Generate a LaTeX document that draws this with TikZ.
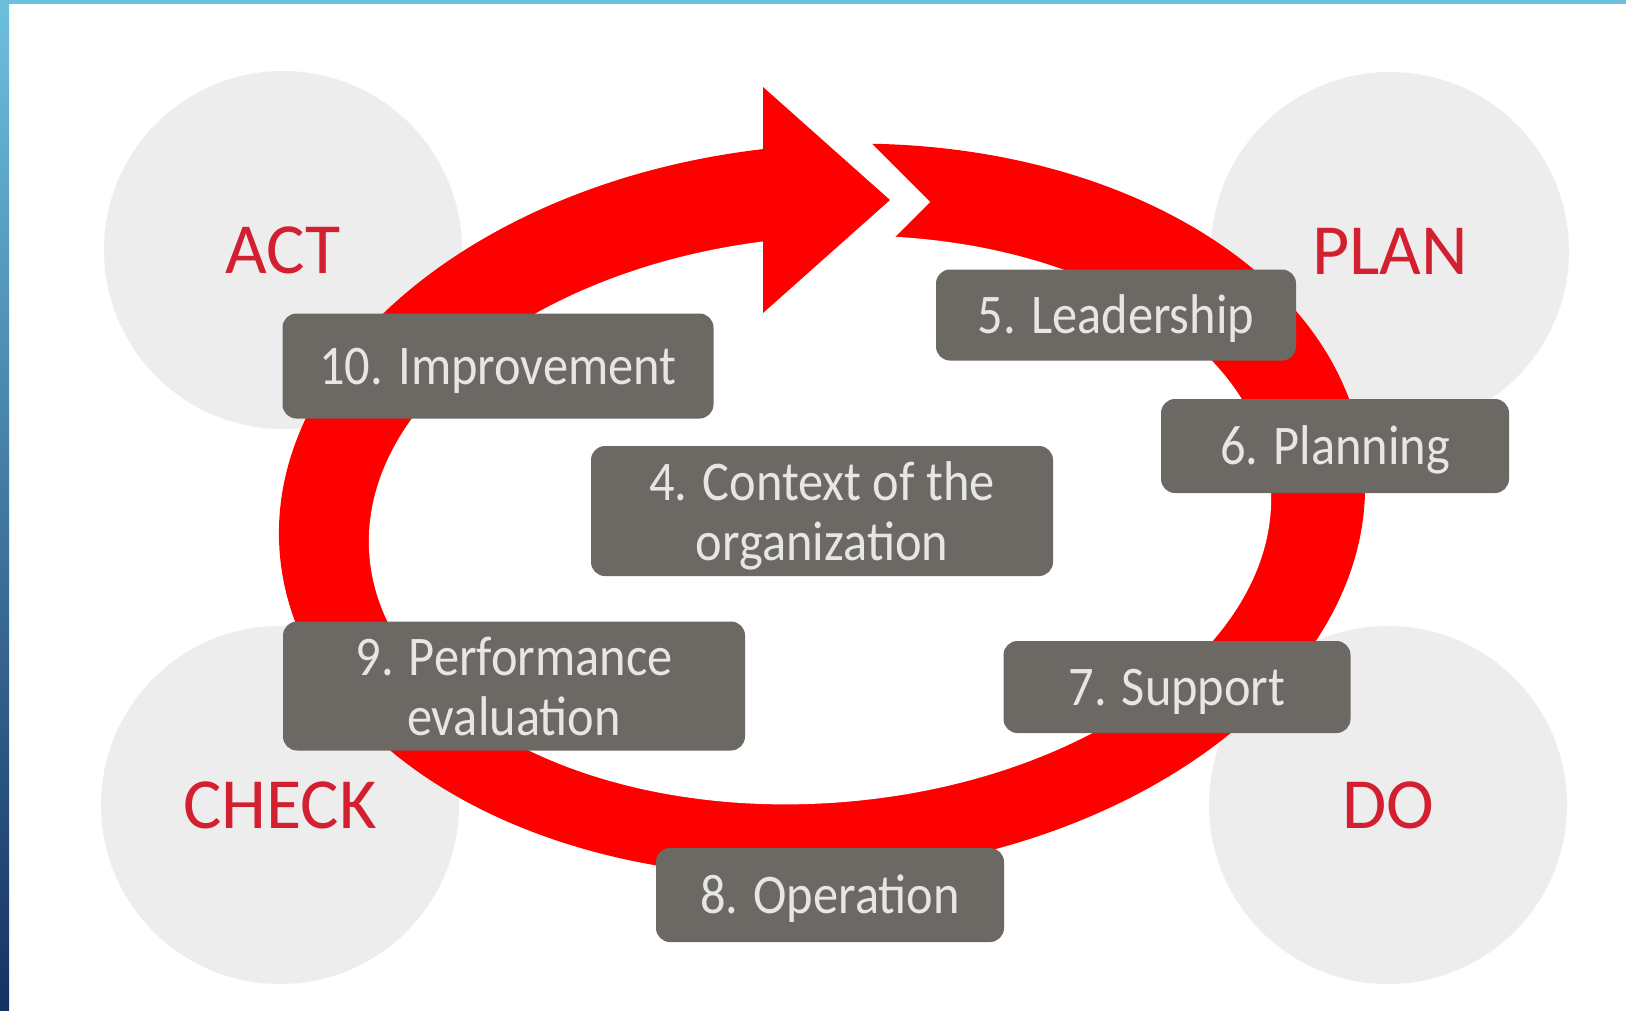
\documentclass[tikz,border=0pt]{standalone}
\usepackage{fontspec}
\newfontfamily\phasefont{Carlito}
\newfontfamily\clausefont[FakeStretch=0.9]{Carlito}
\definecolor{ringred}{HTML}{FF0000}
\definecolor{phasered}{HTML}{D32030}
\definecolor{discgray}{HTML}{EDEDED}
\definecolor{boxgray}{HTML}{6C6864}
\definecolor{boxtext}{HTML}{E6E6E4}
\definecolor{barlight}{HTML}{6CC0DD}
\definecolor{bardark}{HTML}{163262}

\begin{document}
\begin{tikzpicture}[x=1pt,y=-1pt,
  phase/.style={circle, fill=discgray, minimum size=358pt, inner sep=0pt,
    text=phasered, font=\phasefont\fontsize{72}{80}\selectfont},
  clause/.style={rounded corners=14pt, fill=boxgray, text=boxtext, inner sep=0pt,
    align=center, font=\clausefont\fontsize{56}{60}\selectfont},
  oneline/.style={text height=36pt, text depth=0pt}]

\useasboundingbox (0,0) rectangle (1626,1010);
\fill[white] (0,0) rectangle (1626,1010);

% frame: shaded bar on the left, light bar along the top
\shade[top color=barlight, bottom color=bardark] (0,0) rectangle (9,1010);
\fill[barlight] (0,0) rectangle (1626,4);

% PDCA discs
\node[phase] (act)   at (283,250)  {ACT};
\node[phase] (plan)  at (1390,251) {PLAN};
\node[phase] (check) at (280,805)  {CHECK};
\node[phase] (do)    at (1388,805) {DO};

% red cycle band
\begin{scope}[shift={(822,510)}, rotate=4.5]
  \fill[ringred] (0,0) ellipse [x radius=544pt, y radius=365pt];
\end{scope}
\begin{scope}[shift={(820,520)}, rotate=4.5]
  \fill[white] (0,0) ellipse [x radius=452pt, y radius=283pt];
\end{scope}
% break in the band with notched tail, then the arrow head
\fill[white] (763,120) -- (848,120) -- (930,202) -- (870,262) -- (763,262) -- cycle;
\fill[ringred] (763,87) -- (890,200) -- (763,313) -- cycle;

% clauses
\node[clause, oneline, minimum width=431pt, minimum height=105pt] (c10) at (498,366) {10. Improvement};
\node[clause, minimum width=462pt, minimum height=130pt] (c4) at (822,511)
  {4. Context of the\\\raisebox{0pt}[\height][0pt]{organization}};
\node[clause, minimum width=462pt, minimum height=129pt] (c9) at (514,686) {9. Performance\\evaluation};
\node[clause, oneline, minimum width=360pt, minimum height=91pt] (c5) at (1116,315) {5. Leadership};
\node[clause, oneline, minimum width=348pt, minimum height=94pt] (c6) at (1335,446) {6. Planning};
\node[clause, oneline, minimum width=347pt, minimum height=92pt] (c7) at (1177,687) {7. Support};
\node[clause, oneline, minimum width=348pt, minimum height=94pt] (c8) at (830,895) {8. Operation};
\end{tikzpicture}
\end{document}
